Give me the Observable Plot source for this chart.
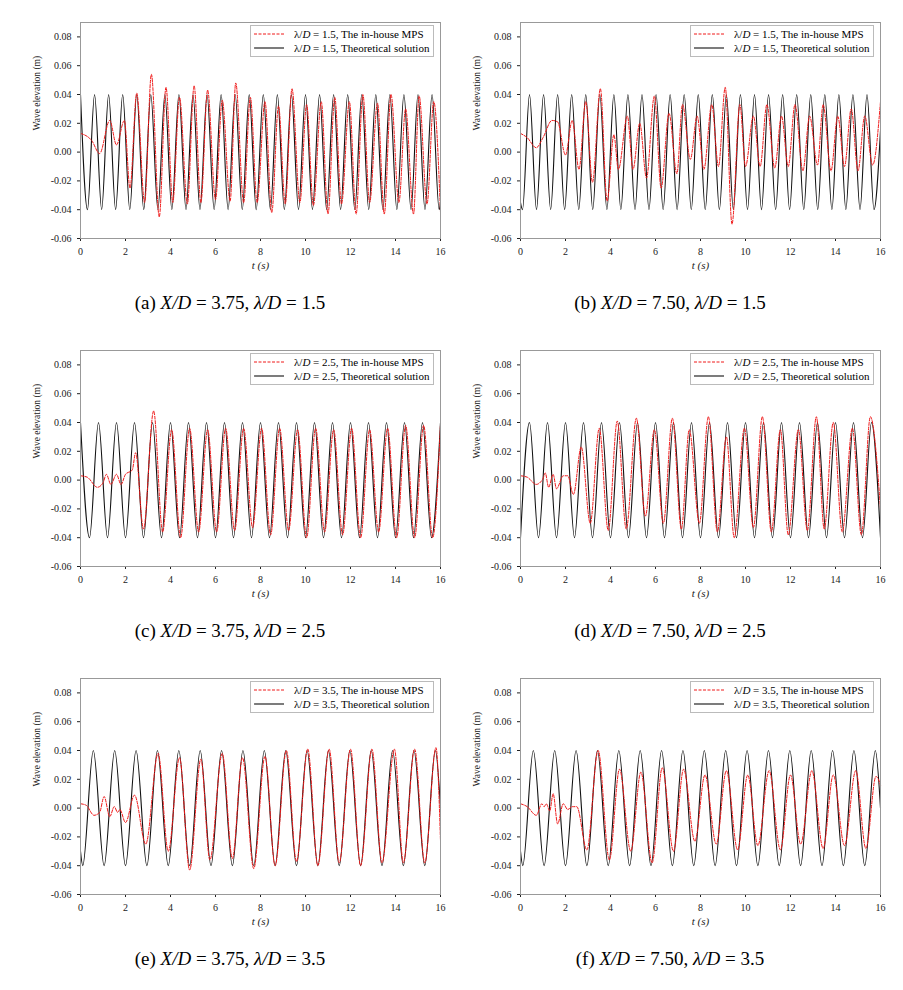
<!DOCTYPE html>
<html>
<head>
<meta charset="utf-8">
<script src="https://cdn.jsdelivr.net/npm/d3@7"></script>
<script src="https://cdn.jsdelivr.net/npm/@observablehq/plot@0.6"></script>
<style>
  body { margin: 0; background: #fff; font-family: "Liberation Serif", "DejaVu Serif", serif; }
  #grid { display: grid; grid-template-columns: 440px 463px; width: 903px; }
  .cell { position: relative; height: 328px; }
  .cell svg { position: absolute; left: 18px; top: 2px; }
  .cap { position: absolute; top: 292px; left: 0; width: 460px; text-align: center; font-size: 19px; }
  .leg { position: absolute; top: 25px; left: 250px; width: 184px; border: 1px solid #bbb; background: #fff;
         font-size: 11px; padding: 1px 3px; box-sizing: border-box; }
  .leg div { display: flex; align-items: center; white-space: nowrap; line-height: 14px; }
  .leg svg { position: static; margin-right: 4px; }
</style>
</head>
<body>
<div id="grid"></div>
<script>
// theoretical solution: extrema times (amplitude 0.04 m)
const thA = {start: [0, 0.04], end: [16, -0.035], peaks: [0, 0.625, 1.25, 1.875, 2.5, 3.125, 3.75, 4.375, 5, 5.625, 6.25, 6.875, 7.5, 8.125, 8.75, 9.375, 10, 10.625, 11.25, 11.875, 12.5, 13.125, 13.75, 14.375, 15, 15.625],
  troughs: [0.31, 0.94, 1.56, 2.19, 2.81, 3.44, 4.06, 4.69, 5.31, 5.94, 6.56, 7.19, 7.81, 8.44, 9.06, 9.69, 10.31, 10.94, 11.56, 12.19, 12.81, 13.44, 14.06, 14.69, 15.31, 15.94]}
const thB = {start: [0, -0.035], end: [16, 0.015], peaks: [0.4, 1.025, 1.65, 2.275, 2.9, 3.525, 4.15, 4.775, 5.4, 6.025, 6.65, 7.275, 7.9, 8.525, 9.15, 9.775, 10.4, 11.025, 11.65, 12.275, 12.9, 13.525, 14.15, 14.775, 15.4],
  troughs: [0.09, 0.71, 1.34, 1.96, 2.59, 3.21, 3.84, 4.46, 5.09, 5.71, 6.34, 6.96, 7.59, 8.21, 8.84, 9.46, 10.09, 10.71, 11.34, 11.96, 12.59, 13.21, 13.84, 14.46, 15.09, 15.71]}
const thC = {start: [0, 0.04], end: [16, 0.04], peaks: [0.8, 1.6, 2.4, 3.2, 4, 4.8, 5.6, 6.4, 7.2, 8, 8.8, 9.6, 10.4, 11.2, 12, 12.8, 13.6, 14.4, 15.2],
  troughs: [0.4, 1.2, 2, 2.8, 3.6, 4.4, 5.2, 6, 6.8, 7.6, 8.4, 9.2, 10, 10.8, 11.6, 12.4, 13.2, 14, 14.8, 15.6]}
const thD = {start: [0, -0.04], end: [16, -0.04], peaks: [0.4, 1.2, 2, 2.8, 3.6, 4.4, 5.2, 6, 6.8, 7.6, 8.4, 9.2, 10, 10.8, 11.6, 12.4, 13.2, 14, 14.8, 15.6],
  troughs: [0.8, 1.6, 2.4, 3.2, 4, 4.8, 5.6, 6.4, 7.2, 8, 8.8, 9.6, 10.4, 11.2, 12, 12.8, 13.6, 14.4, 15.2]}
const thE = {start: [0, -0.03], end: [16, 0], peaks: [0.57, 1.52, 2.47, 3.42, 4.37, 5.32, 6.27, 7.22, 8.17, 9.12, 10.07, 11.02, 11.97, 12.92, 13.87, 14.82, 15.77],
  troughs: [0.1, 1.05, 2.0, 2.95, 3.9, 4.85, 5.8, 6.75, 7.7, 8.65, 9.6, 10.55, 11.5, 12.45, 13.4, 14.35, 15.3]}
const thF = thE

// in-house MPS: [t, elevation] at turning points
const mpsA = [[0,0.013],[0.5,0.008],[0.85,-0.001],[1.3,0.022],[1.6,0.005],[1.95,0.022],[2.2,-0.025],[2.5,0.041],[2.85,-0.035],[3.15,0.054],[3.5,-0.045],[3.8,0.045],[4.1,-0.035],[4.4,0.038],[4.75,-0.036],[5.05,0.046],[5.35,-0.035],[5.65,0.043],[6.0,-0.033],[6.3,0.036],[6.65,-0.034],[6.9,0.048],[7.25,-0.035],[7.55,0.038],[7.85,-0.035],[8.2,0.035],[8.5,-0.042],[8.8,0.032],[9.1,-0.036],[9.4,0.044],[9.75,-0.035],[10.05,0.033],[10.35,-0.037],[10.7,0.035],[11.0,-0.043],[11.3,0.038],[11.6,-0.036],[11.95,0.035],[12.25,-0.043],[12.55,0.040],[12.85,-0.035],[13.2,0.034],[13.5,-0.043],[13.8,0.040],[14.15,-0.035],[14.45,0.030],[14.8,-0.043],[15.05,0.039],[15.4,-0.036],[15.7,0.035],[16,-0.042]]
const mpsB = [[0,0.013],[0.3,0.010],[0.7,0.003],[1.0,0.010],[1.4,0.022],[1.65,0.021],[2.0,-0.002],[2.3,0.022],[2.6,-0.012],[2.9,0.035],[3.2,-0.021],[3.55,0.044],[3.85,-0.034],[4.15,0.012],[4.35,-0.012],[4.75,0.025],[5.0,-0.012],[5.3,0.020],[5.6,-0.018],[5.95,0.039],[6.25,-0.025],[6.6,0.027],[6.95,-0.015],[7.2,0.033],[7.55,-0.005],[7.85,0.025],[8.15,-0.012],[8.5,0.033],[8.8,-0.010],[9.1,0.045],[9.4,-0.050],[9.75,0.033],[10.0,-0.010],[10.35,0.025],[10.65,-0.010],[10.95,0.033],[11.3,-0.011],[11.6,0.025],[11.9,-0.010],[12.2,0.033],[12.55,-0.013],[12.85,0.025],[13.2,-0.009],[13.45,0.033],[13.8,-0.013],[14.1,0.025],[14.4,-0.010],[14.7,0.030],[15.0,-0.013],[15.3,0.025],[15.65,-0.009],[16,0.035]]
const mpsC = [[0,0.003],[0.3,0.002],[0.75,-0.005],[1.0,-0.002],[1.15,0.004],[1.35,-0.003],[1.6,0.004],[1.8,-0.003],[2.0,0.004],[2.3,0.007],[2.45,0.019],[2.8,-0.034],[3.25,0.048],[3.65,-0.036],[4.05,0.035],[4.45,-0.040],[4.85,0.036],[5.25,-0.036],[5.65,0.035],[6.05,-0.036],[6.45,0.036],[6.85,-0.035],[7.25,0.036],[7.65,-0.033],[8.05,0.036],[8.45,-0.038],[8.85,0.036],[9.25,-0.035],[9.65,0.035],[10.05,-0.040],[10.45,0.036],[10.85,-0.036],[11.25,0.035],[11.65,-0.038],[12.05,0.036],[12.45,-0.040],[12.85,0.035],[13.25,-0.036],[13.65,0.036],[14.05,-0.040],[14.45,0.038],[14.85,-0.040],[15.25,0.038],[15.65,-0.040],[16,0.039]]
const mpsD = [[0,0.003],[0.3,0.002],[0.7,-0.003],[1.0,0.001],[1.1,0.005],[1.25,-0.005],[1.45,0.004],[1.6,-0.006],[1.9,0.003],[2.1,0.003],[2.35,-0.010],[2.7,0.023],[3.1,-0.030],[3.5,0.036],[3.9,-0.035],[4.3,0.041],[4.7,-0.034],[5.15,0.043],[5.55,-0.025],[5.95,0.035],[6.35,-0.030],[6.75,0.043],[7.15,-0.034],[7.5,0.035],[7.95,-0.030],[8.35,0.044],[8.75,-0.036],[9.15,0.030],[9.5,-0.040],[9.95,0.036],[10.35,-0.033],[10.75,0.044],[11.15,-0.036],[11.55,0.035],[11.9,-0.038],[12.35,0.035],[12.75,-0.035],[13.15,0.044],[13.5,-0.034],[13.9,0.040],[14.3,-0.036],[14.75,0.036],[15.15,-0.038],[15.55,0.044],[16,-0.020]]
const mpsE = [[0,0.003],[0.25,0.002],[0.6,-0.005],[0.85,-0.003],[1.05,0.008],[1.3,-0.006],[1.5,0.001],[1.65,-0.003],[1.75,-0.001],[2.0,-0.010],[2.4,0.009],[2.9,-0.025],[3.45,0.038],[3.9,-0.030],[4.4,0.035],[4.85,-0.043],[5.35,0.034],[5.75,-0.036],[6.3,0.038],[6.75,-0.035],[7.2,0.035],[7.7,-0.042],[8.2,0.036],[8.65,-0.040],[9.15,0.040],[9.6,-0.037],[10.1,0.041],[10.55,-0.040],[11.05,0.041],[11.5,-0.038],[12.0,0.041],[12.45,-0.040],[12.95,0.041],[13.4,-0.038],[13.95,0.041],[14.35,-0.038],[14.85,0.041],[15.3,-0.038],[15.8,0.042],[16,-0.023]]
const mpsF = [[0,0.003],[0.3,0.001],[0.7,-0.005],[0.95,0.003],[1.05,0.001],[1.15,0.003],[1.3,-0.002],[1.45,0.010],[1.65,-0.011],[1.9,0.003],[2.1,-0.001],[2.3,0.001],[2.5,0.001],[2.95,-0.029],[3.45,0.040],[3.95,-0.036],[4.4,0.027],[4.9,-0.030],[5.35,0.025],[5.85,-0.038],[6.3,0.028],[6.8,-0.030],[7.25,0.027],[7.75,-0.023],[8.2,0.023],[8.7,-0.025],[9.15,0.026],[9.65,-0.029],[10.1,0.023],[10.55,-0.026],[11.05,0.026],[11.55,-0.029],[12.0,0.023],[12.45,-0.025],[12.95,0.026],[13.45,-0.028],[13.9,0.023],[14.4,-0.026],[14.9,0.026],[15.35,-0.028],[15.8,0.022],[16,0.016]]

const amp = 0.04
const yTicks = [-0.06, -0.04, -0.02, 0, 0.02, 0.04, 0.06, 0.08]
const xTicks = [0, 2, 4, 6, 8, 10, 12, 14, 16]

const panels = [
  {th: thA, mps: mpsA, lam: "1.5", cap: ["(a) ", "X/D", " = 3.75, ", "λ/D", " = 1.5"]},
  {th: thB, mps: mpsB, lam: "1.5", cap: ["(b) ", "X/D", " = 7.50, ", "λ/D", " = 1.5"]},
  {th: thC, mps: mpsC, lam: "2.5", cap: ["(c) ", "X/D", " = 3.75, ", "λ/D", " = 2.5"]},
  {th: thD, mps: mpsD, lam: "2.5", cap: ["(d) ", "X/D", " = 7.50, ", "λ/D", " = 2.5"]},
  {th: thE, mps: mpsE, lam: "3.5", cap: ["(e) ", "X/D", " = 3.75, ", "λ/D", " = 3.5"]},
  {th: thF, mps: mpsF, lam: "3.5", cap: ["(f) ", "X/D", " = 7.50, ", "λ/D", " = 3.5"]}
]

function theoryPoints(th) {
  const pts = [th.start, th.end]
  th.peaks.forEach(t => pts.push([t, amp]))
  th.troughs.forEach(t => pts.push([t, -amp]))
  return d3.sort(d3.group(pts, d => d[0]).values(), g => g[0][0]).map(g => g[0])
}

const grid = d3.select('#grid')
for (const p of panels) {
  const cell = grid.append('div').attr('class', 'cell')
  const chart = Plot.plot({
    width: 430, height: 280,
    marginLeft: 62, marginRight: 8, marginTop: 20, marginBottom: 44,
    style: {fontFamily: '"Liberation Serif", serif', fontSize: "10px", color: "#222"},
    x: {domain: [0, 16], ticks: xTicks, tickSize: 3, label: null},
    y: {domain: [-0.06, 0.09], ticks: yTicks, tickSize: 3, tickFormat: d => d.toFixed(2), label: null},
    marks: [
      Plot.line(theoryPoints(p.th), {x: d => d[0], y: d => d[1], curve: "monotone-x", stroke: "#111", strokeWidth: 1.1}),
      Plot.line(p.mps, {x: d => d[0], y: d => d[1], curve: "monotone-x", stroke: "#f01818", strokeWidth: 1, strokeDasharray: "3,1.5"}),
      Plot.frame({stroke: "#999"}),
      Plot.text(["Wave elevation (m)"], {frameAnchor: "left", dx: -44, rotate: -90, fontSize: 9.5}),
      Plot.text(["t (s)"], {frameAnchor: "bottom", dy: 30, fontSize: 11, fontStyle: "italic"})
    ]
  })
  cell.append(() => chart)
  const leg = cell.append('div').attr('class', 'leg')
  leg.append('div').html(`<svg width="30" height="6"><line x1="0" y1="3" x2="30" y2="3" stroke="#f01818" stroke-dasharray="3,1.5"/></svg>` +
    `<span style="margin-left:6px">λ/<i>D</i> = ${p.lam}, The in-house MPS</span>`)
  leg.append('div').html(`<svg width="30" height="6"><line x1="0" y1="3" x2="30" y2="3" stroke="#111" stroke-width="1.1"/></svg>` +
    `<span style="margin-left:6px">λ/<i>D</i> = ${p.lam}, Theoretical solution</span>`)
  const c = p.cap
  cell.append('div').attr('class', 'cap')
    .html(`${c[0]}<i>${c[1]}</i>${c[2]}<i>${c[3]}</i>${c[4]}`)
}
</script>
</body>
</html>
